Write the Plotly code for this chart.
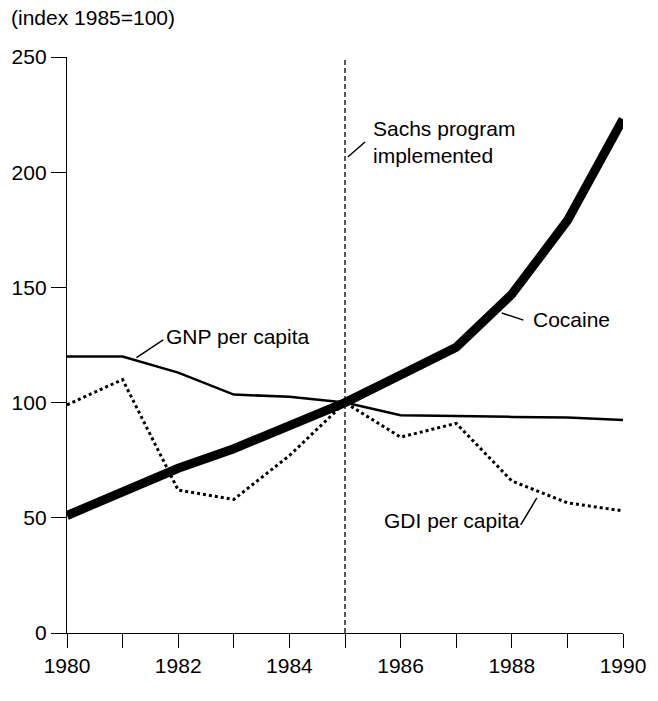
import plotly.graph_objects as go

years = list(range(1980, 1991))
gnp_per_capita = [120, 120, 113, 103.5, 102.5, 100, 94.5, 94, 93.8, 93.5, 92.5]
gdi_per_capita = [99, 110, 62, 58, 77, 100, 85, 91, 66, 56.5, 53]
cocaine = [51, 61, 71.5, 80, 90, 100, 112, 124, 147, 179, 223]

y_ticks = [0, 50, 100, 150, 200, 250]
x_ticks = [1980, 1982, 1984, 1986, 1988, 1990]
program_year = 1985

FONT = "Liberation Sans, Arial, Helvetica, sans-serif"

fig = go.Figure()

fig.add_trace(go.Scatter(x=years, y=gnp_per_capita, mode="lines",
                         line=dict(color="black", width=2.5), name="GNP per capita"))
fig.add_trace(go.Scatter(x=years, y=gdi_per_capita, mode="lines",
                         line=dict(color="black", width=3, dash="dot"), name="GDI per capita"))
fig.add_trace(go.Scatter(x=years, y=cocaine, mode="lines",
                         line=dict(color="black", width=9), name="Cocaine"))

# Sachs program vertical marker
fig.add_shape(type="line", x0=program_year, x1=program_year, y0=0, y1=250,
              xref="x", yref="y", line=dict(color="black", width=1.3, dash="5px,3px"))

# leader lines for the labels
leaders = [
    (1981.25, 119.5, 1981.73, 127.2),
    (1985.05, 206.6, 1985.36, 213.1),
    (1987.82, 138.9, 1988.21, 135.8),
    (1988.16, 46.9, 1988.45, 58.6),
]
for x0, y0, x1, y1 in leaders:
    fig.add_shape(type="line", x0=x0, y0=y0, x1=x1, y1=y1, xref="x", yref="y",
                  line=dict(color="black", width=1.5))

labels = [
    (1981.75, 128.5, "GNP per capita"),
    (1985.46, 213, "Sachs program<br>implemented"),
    (1988.34, 136, "Cocaine"),
    (1985.66, 49, "GDI per capita"),
]
for x, y, t in labels:
    fig.add_annotation(x=x, y=y, text=t, showarrow=False, xanchor="left", yanchor="middle",
                       align="left", font=dict(family=FONT, size=21, color="black"))

fig.add_annotation(x=0, y=1, xref="paper", yref="paper", xshift=-58, yshift=40,
                   text="(index 1985=100)", showarrow=False, xanchor="left", yanchor="middle",
                   font=dict(family=FONT, size=21, color="black"))

fig.update_xaxes(range=[1980, 1990], tickvals=x_ticks, ticks="outside", ticklen=14,
                 tickwidth=1.3, tickcolor="black", showline=True, linecolor="black",
                 linewidth=1.3, showgrid=False, zeroline=False,
                 minor=dict(tickvals=years, ticks="outside", ticklen=14,
                            tickwidth=1.3, tickcolor="black"),
                 tickfont=dict(family=FONT, size=21, color="black"))
fig.update_yaxes(range=[0, 250], tickvals=y_ticks, ticks="outside", ticklen=15,
                 tickwidth=1.3, tickcolor="black", showline=True, linecolor="black",
                 linewidth=1.3, showgrid=False, zeroline=False,
                 tickfont=dict(family=FONT, size=21, color="black"))

fig.update_layout(width=658, height=701, showlegend=False,
                  plot_bgcolor="white", paper_bgcolor="white",
                  margin=dict(l=65, r=33, t=57, b=68))

# drop the default page margin so the figure sits at the window origin
fig.write_html("out.html", config={"displayModeBar": False},
               post_script="document.body.style.margin='0';document.body.style.overflow='hidden';")
